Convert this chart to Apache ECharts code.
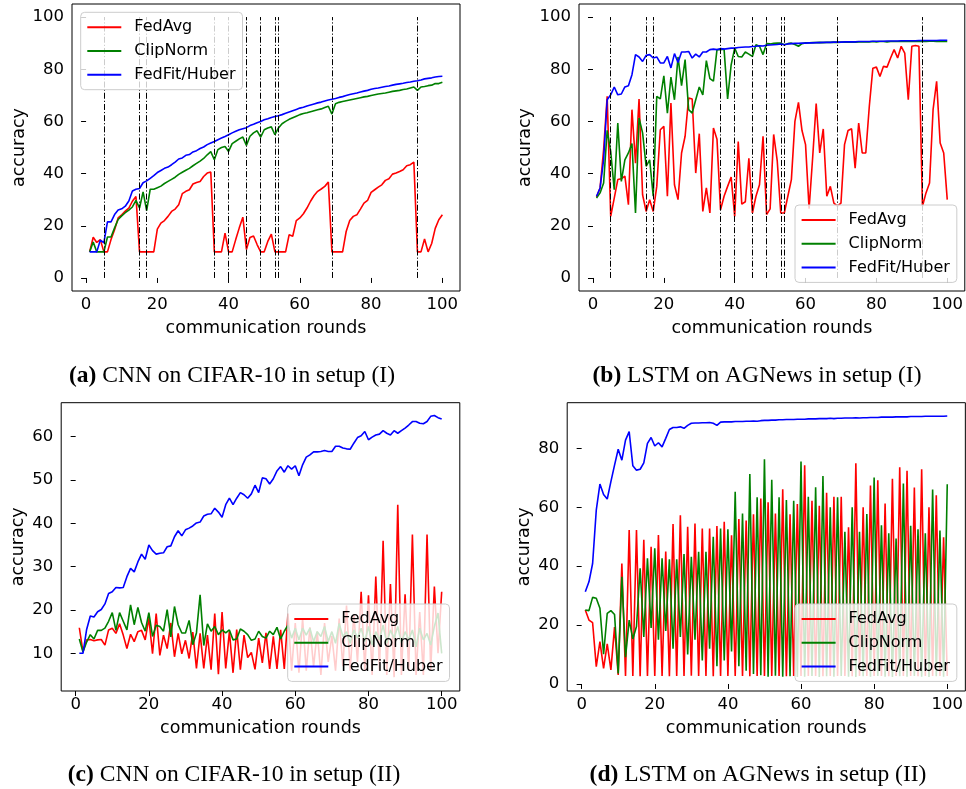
<!DOCTYPE html>
<html><head><meta charset="utf-8">
<script src="https://cdn.jsdelivr.net/npm/echarts@6/dist/echarts.min.js"></script>
<style>html,body{margin:0;padding:0;background:#fff}#c{width:966px;height:789px}</style>
</head><body><div id="c"></div><script>
const rounds = [1,2,3,4,5,6,7,8,9,10,11,12,13,14,15,16,17,18,19,20,21,22,23,24,25,26,27,28,29,30,31,32,33,34,35,36,37,38,39,40,41,42,43,44,45,46,47,48,49,50,51,52,53,54,55,56,57,58,59,60,61,62,63,64,65,66,67,68,69,70,71,72,73,74,75,76,77,78,79,80,81,82,83,84,85,86,87,88,89,90,91,92,93,94,95,96,97,98,99,100];
const seriesNames = ['FedAvg','ClipNorm','FedFit/Huber'];
const xTicks = [0,20,40,60,80,100];
const yTicksTop = [0,20,40,60,80,100];
const yTicksC = [10,20,30,40,50,60];
const yTicksD = [0,20,40,60,80];
const attackRounds = [5,15,17,36,40,45,49,53,54,69,93];
const captions = [['(a)',' CNN on CIFAR-10 in setup (I)'],['(b)',' LSTM on AGNews in setup (I)'],['(c)',' CNN on CIFAR-10 in setup (II)'],['(d)',' LSTM on AGNews in setup (II)']];

// (a) CNN CIFAR-10 setup I
const fedAvgA = [10,15.6,13.6,14.7,10,10,14.7,18.5,23,24.2,25.6,26.8,29.4,31.2,10,10,10,10,10,18.7,21,22,23.6,25.5,26.4,28.1,32.3,33.2,33.8,36,36.6,37,38.9,40.2,40.6,10,10,10,17.2,10,10,14.7,19.2,23.3,10.9,15.5,16.1,12.8,10,10,14,16.8,10,10,10,10,16.6,16,22,23,24.6,26.8,29.4,31.6,33.2,34.1,35.1,36.8,10,10,10,10,17.8,22,23.6,24.2,26.4,28.7,29.7,32.8,33.8,34.8,35.7,37.4,38,39.8,40.2,40.8,41.5,43,43.4,44.4,10,10,14.9,10,13.2,19,22.3,24.2];
const clipNormA = [10,13.8,10,10,10,15.7,15.7,19.2,22.4,23.8,25,26,27.2,29.7,26.8,33,25.8,34,34,34.6,35.2,36.2,37,37.8,38.6,39.7,40.5,41.3,42,43,43.9,44.8,45.8,47.2,48.4,45.3,49.2,50,50.4,48.5,51.5,52.4,53.3,54,50.8,54.3,55.6,56.4,54,56.8,57.5,57.9,54.9,57.5,59.1,60,60.8,61.4,62,62.6,63,63.3,63.7,64.1,64.5,64.8,65.3,65.8,62.8,66.8,67.3,67.6,67.9,68.2,68.5,68.8,69.1,69.4,69.6,69.9,70.2,70.5,70.7,70.9,71.2,71.5,71.7,71.9,72.2,72.4,72.8,73.2,71.9,73.2,73.4,73.7,73.9,74.5,74.5,75];
const fedFitA = [10,10,10,14.5,13.5,21.5,21.5,24.3,26,26.5,27.5,29.5,33.3,34,34.3,36.5,37.2,38.2,39.2,40.4,41.2,42,42.5,43.4,44.4,45.6,46,47,47.3,48.3,48.8,49.6,50.2,51.1,51.7,52.3,53,53.6,54.2,54.9,55.6,56.2,56.8,57.2,57.6,58.4,58.9,59.5,60,60.6,61,61.5,61.9,62.2,62.6,63.1,63.6,64.1,64.6,65.1,65.4,65.9,66.3,66.7,67.1,67.4,67.8,68.2,68.5,68.8,69.2,69.5,69.9,70.3,70.6,70.9,71.3,71.6,71.9,72.3,72.6,72.8,73.1,73.4,73.6,73.9,74.2,74.4,74.6,74.9,75.1,75.4,75.6,75.9,76.3,76.5,76.7,77,77.2,77.3];

// (b) LSTM AGNews setup I
const fedAvgB = [31,34.5,49.2,69.6,23.6,30.6,37.7,38,39,28.1,64.5,44,68.6,31.9,25.5,30,25.5,35.1,56.8,58.1,31.3,67,35.7,30,47.9,54.3,69,68.6,40.2,55.3,25.5,34.5,24.9,57.5,53.2,26.1,31.3,35.1,38.7,23.6,52.3,28.3,29.2,45.9,24.9,31.3,35.7,54.3,24.3,26.5,55,45,24.9,24.9,31.3,37.7,60,67.3,56.5,51.1,26.5,46,66.8,47.9,57.1,31.3,35.1,28.7,27.5,28.7,51.1,56.5,57.2,42.1,59.4,47.9,47.9,65.8,80.4,80.8,77.2,81.1,80.8,84.3,87.5,84.3,88.8,86.2,68.3,88.8,89.1,88.8,27.5,32.6,36.4,64.5,75.4,51.7,47.9,30];
const clipNormB = [30.6,32.6,36.4,56.6,48.5,33.8,59.4,37,45.3,47.9,51.5,24.9,61.3,55.6,42.8,45.3,31.3,69.6,68.6,77.5,63.2,77,68.3,84.7,73.7,83.7,64.5,63.2,68.3,73.2,70.2,83.3,76.4,75.4,87.5,87.5,87.7,68.6,81.7,88.1,84.9,84.7,86.6,85.8,84.9,89.4,88.8,85.6,89.8,89.7,89.9,90,90,89.4,89.8,90,89.5,88.8,89.8,90.1,90.1,90.2,90.2,90.3,90.2,90.3,90.3,90.4,90.3,90.4,90.4,90.4,90.5,90.4,90.5,90.5,90.5,90.5,90.6,90.5,90.6,90.6,90.5,90.6,90.6,90.6,90.6,90.7,90.6,90.6,90.7,90.6,90.7,90.6,90.7,90.7,90.6,90.7,90.6,90.6];
const fedFitB = [31.3,34.5,45.3,68.3,70.2,73.2,70.2,70.5,73.2,73.7,77.9,85.6,84.7,83,85.3,85.6,84.3,84.7,82.4,82.4,84.9,80.5,86,82.6,86.6,86.6,86.8,84.3,85.8,84.7,86.6,86.6,87.5,87.7,87.5,87.9,87.7,87.9,88.1,88.1,88.3,88.4,88.5,88.5,88.7,88.8,89,88.9,89.2,89.3,89.4,89.5,89.7,89.4,89.7,89.8,89.9,89.9,90,90,90.1,90.1,90.2,90.2,90.3,90.3,90.3,90.4,90.4,90.4,90.5,90.5,90.5,90.5,90.6,90.6,90.6,90.6,90.7,90.7,90.7,90.7,90.8,90.8,90.8,90.8,90.9,90.9,90.9,90.9,90.9,91,91,91,91,91,91,91.1,91.1,91.1];

// (c) CNN CIFAR-10 setup II
const fedAvgC = [15.9,10.4,13.1,13.2,12.9,13.1,13.2,11.9,15.4,15.8,14.6,16.8,14.2,11.1,14.4,12.7,15,15.3,13.1,18.1,9.9,19.2,9.5,14.2,11.1,17,9.2,14.6,9.9,13,8.8,14.9,6.5,14.6,6.5,14.2,6.2,19.2,5.2,19.5,6.5,15,5.5,15.5,6.2,14.2,9,10.2,6.3,13.5,7.8,14.7,6.4,13.9,6.4,15.4,6.4,19.2,6,17,5.5,18,6,16,7,15,5,17,8,14,6,18,7,21,6,19,8,24.2,6,23.4,5,27.7,6,36,5,26,4.5,44.3,5,23.6,6,37.4,5,19.5,5,37.4,6,25.4,10,24.2];
const clipNormC = [13.3,10.3,12.6,14.3,13.3,15.3,15.3,15.8,17.4,19.4,15.3,19.4,17.4,15.4,21.2,16.6,20.6,17.1,15.1,19.4,13.9,16.5,16.2,15.1,20.1,13.8,20.8,16.6,14.7,14.7,17.6,12,14.7,23.5,11.8,16.8,15.1,16.2,14.3,15.4,14.7,15.4,13.1,13.3,15.6,15.1,14.3,13,13.3,15.1,13.9,13.5,15.1,14.3,16,13.3,15.1,16.5,13.5,15.8,13.1,15.8,14.2,15.8,12.7,15,13.9,16.2,12.7,15,12.3,16.9,13.9,15,12.3,15.4,13.5,15.8,12.7,16.2,11.9,15,13.1,16.5,12.3,15.4,13.5,16.2,12.3,15,13.1,15.4,11.5,15.8,13.1,14.6,11.9,16.2,19.3,10];
const fedFitC = [10,10,15.5,18.6,18.4,19.6,20.1,21.4,23.8,24.2,25.2,25.1,25.2,27.7,29.6,28.8,31.1,32.9,31.7,35,33.7,32.9,33.1,33.2,34.6,34.8,36.9,38.3,37.1,38.5,38.9,39.4,40.1,40.3,41.7,42.1,42.2,43.5,42.6,41.4,44.3,45.8,44.3,45.8,47.1,46.6,45.8,46.8,48.8,47.1,50.5,50.3,49.1,50.3,52.1,53.1,51.8,53.3,52.5,53.3,51,53.5,55.3,55.8,56.5,56.5,56.6,56.8,56.6,56.6,57.8,57.8,57.4,57.2,57.1,58.5,59.8,60.2,61.2,59.3,59.9,60.4,60.6,61.4,60.8,60.4,61.4,60.8,61.4,62,62.7,63.5,63.5,63.1,63,63.5,64.7,64.9,64.4,64.1];

// (d) LSTM AGNews setup II
const fedAvgD = [25.1,21.7,20.8,5.9,14.4,5.3,13.6,4.8,19.3,3.1,40.9,2.7,52.3,2.7,52.3,2.6,49,2.7,46.6,2.7,50.6,2.7,45,2.6,54.3,2.7,57.3,2.7,53.4,2.8,54.5,2.7,52.8,2.7,52.8,2.6,53.6,2.7,55.1,2.7,50.5,2.7,56,2.7,55.5,2.6,57.6,2.7,63,2.7,61.7,2.7,57.9,2.7,66.1,2.6,57.6,2.7,61.1,2.7,74.3,2.7,62.2,2.7,60.5,2.6,64.9,2.7,63.6,2.7,63.6,2.7,53.2,2.6,74.9,2.7,60,2.7,67.4,2.7,69.2,2.7,61.3,2.6,69.7,2.7,73.6,2.7,72.4,2.7,66.7,2.6,72.9,2.7,60,2.7,64.1,2.7,49.8,2.7];
const clipNormD = [25.1,24.9,29.4,29.1,25.7,10.1,24,24.9,23.6,3.6,36.4,9.1,21.7,15.3,19.5,39.3,16,42.7,19,46.1,15,42.7,18,42.3,12,42.3,16,44.1,10,43.2,15,44.9,8,44.9,12,50,6,52.8,8,52.5,11,65.3,6,57.9,4.5,71.3,3.4,63.4,3,76.3,2.5,69.3,2.8,63.4,2.5,62.5,2.6,62.2,2.4,75.5,2.5,63.6,2.7,66.8,2.4,70.6,2.6,60,2.5,63.4,2.7,51.7,2.5,60,2.4,51.7,2.6,57.7,2.5,70.1,2.7,53.9,2.5,51.2,2.4,49.4,2.6,68.1,2.5,53.7,2.7,52.5,2.5,51.2,2.4,66,2.6,52.1,2.5,67.8];
const fedFitD = [31.3,34.7,40.9,59,67.9,64.3,62.8,68.7,74.3,79.7,76,82.8,85.7,74.1,72.6,72.9,75.1,81.7,83.7,80.8,81.9,80.5,83.4,86.4,87.1,87.1,87.3,86.8,87.8,88.5,88.6,88.6,88.7,88.7,88.8,88.5,87.8,88.9,89,89,89,89.1,89.1,89.1,89.2,89.2,89.3,89.2,89.4,89.5,89.5,89.6,89.6,89.7,89.7,89.8,89.8,89.8,89.9,89.9,89.9,90,90,90,90.1,90.1,90.1,90.2,90.1,90.2,90.2,90.3,90.3,90.3,90.4,90.3,90.4,90.4,90.5,90.5,90.5,90.6,90.6,90.6,90.6,90.7,90.7,90.7,90.7,90.8,90.8,90.8,90.8,90.9,90.9,90.9,90.9,90.9,90.9,91];

const panels = [
  {vals:[fedAvgA,clipNormA,fedFitA], grid:{left:72,top:4,width:388,height:287}, y:[-5,105], yt:yTicksTop, vl:true, ng:43, legend:{left:80.7,top:12.3}, cap:{x:232,y:376}},
  {vals:[fedAvgB,clipNormB,fedFitB], grid:{left:579,top:4,width:388,height:287}, y:[-5,105], yt:yTicksTop, vl:true, ng:45, legend:{left:795,top:205}, cap:{x:757,y:376}},
  {vals:[fedAvgC,clipNormC,fedFitC], grid:{left:61.2,top:402.7,width:398.6,height:288.3}, y:[1.3,67.85], yt:yTicksC, vl:false, ng:33.5, legend:{left:287.7,top:604}, cap:{x:234,y:775}},
  {vals:[fedAvgD,clipNormD,fedFitD], grid:{left:567.2,top:402.7,width:400,height:288.3}, y:[-2.38,95.5], yt:yTicksD, vl:false, ng:33.5, legend:{left:795,top:604}, cap:{x:758,y:775}}
];
const colors = ['#ff0000','#008000','#0000ff'];
const FONT = 'DejaVu Sans';

const option = {animation:false, textStyle:{fontFamily:FONT},
  grid:[], xAxis:[], yAxis:[], series:[], legend:[], graphic:[]};

panels.forEach((p,pi)=>{
  option.grid.push(Object.assign({show:true, borderColor:'#000', borderWidth:1, containLabel:false}, p.grid));
  option.xAxis.push({type:'value', gridIndex:pi, min:-3.95, max:104.95,
    name:'communication rounds', nameLocation:'middle', nameGap:28,
    nameTextStyle:{fontSize:17.5, color:'#000', fontFamily:FONT},
    axisLine:{show:false}, splitLine:{show:false},
    axisTick:{show:true, inside:false, length:5, customValues:xTicks, lineStyle:{color:'#000', width:1}},
    axisLabel:{show:true, margin:5, fontSize:16.5, color:'#000', fontFamily:FONT, customValues:xTicks}});
  option.yAxis.push({type:'value', gridIndex:pi, min:p.y[0], max:p.y[1],
    name:'accuracy', nameLocation:'middle', nameGap:p.ng, nameRotate:90,
    nameTextStyle:{fontSize:17.5, color:'#000', fontFamily:FONT},
    axisLine:{show:false}, splitLine:{show:false},
    axisTick:{show:true, inside:false, length:5, customValues:p.yt, lineStyle:{color:'#000', width:1}},
    axisLabel:{show:true, margin:8, fontSize:16.5, color:'#000', fontFamily:FONT, customValues:p.yt}});
  p.vals.forEach((arr,si)=>{
    const s = {type:'line', name:seriesNames[si], xAxisIndex:pi, yAxisIndex:pi,
      data: rounds.map((r,i)=>[r, arr[i]]), showSymbol:false, symbol:'none',
      color:colors[si], itemStyle:{color:colors[si]},
      lineStyle:{color:colors[si], width:1.6}, emphasis:{disabled:true}, z:2+si};
    if (si===0 && p.vl) {
      s.markLine = {silent:true, symbol:['none','none'], label:{show:false}, animation:false,
        lineStyle:{color:'#000', width:1, type:[6,2,1.2,2], opacity:1},
        emphasis:{disabled:true},
        data: attackRounds.map(v=>[{coord:[v,0]},{coord:[v,100]}])};
    }
    option.series.push(s);
  });
  option.legend.push({orient:'vertical', left:p.legend.left, top:p.legend.top,
    data:seriesNames, icon:'rect', itemWidth:34, itemHeight:2, itemGap:5.7,
    padding:[6,7,6,6.6], backgroundColor:'rgba(255,255,255,0.8)', borderColor:'#cccccc',
    borderWidth:1, borderRadius:4, selectedMode:false, z:10,
    textStyle:{fontSize:16, lineHeight:18, color:'#000', fontFamily:FONT, padding:[0,0,0,8]}});
  const c = captions[pi];
  option.graphic.push({type:'text', x:p.cap.x, y:p.cap.y, silent:true,
    style:{text:'{b|'+c[0]+'}{n|'+c[1]+'}', align:'center', verticalAlign:'middle', fill:'#000',
      fontSize:23.5, fontFamily:'Liberation Serif',
      rich:{b:{fontWeight:'bold', fontSize:23.5, fontFamily:'Liberation Serif', fill:'#000'},
            n:{fontSize:23.5, fontFamily:'Liberation Serif', fill:'#000'}}}});
});

const chart = echarts.init(document.getElementById('c'), null, {renderer:'canvas'});
chart.setOption(option);
</script></body></html>
